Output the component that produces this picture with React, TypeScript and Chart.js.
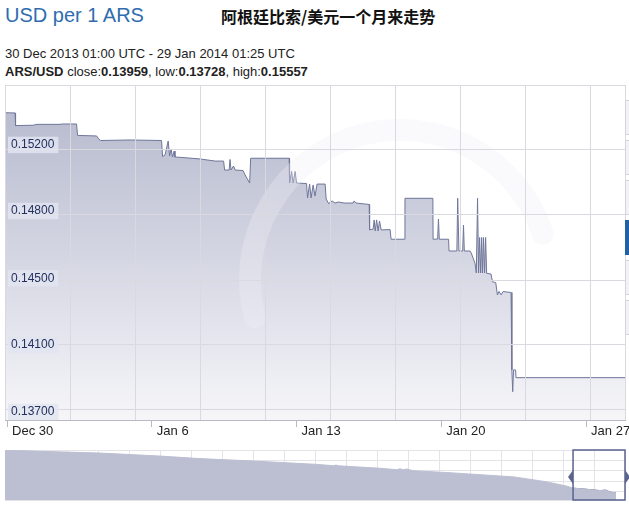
import React, { useEffect, useRef } from "react";
import { Chart, registerables } from "chart.js";

Chart.register(...registerables);

// ---- main chart data (days since 30 Dec 2013 00:00 UTC, USD per 1 ARS) ----
const MAIN_DAYS = [
  -0.1, 0.39, 0.41, 1.26, 1.44, 2.56, 2.66, 3.36, 3.41, 4.33,
  4.43, 4.52, 5.95, 7.47, 7.52, 7.64, 7.79, 7.86, 7.93, 8.0,
  8.08, 8.12, 8.51, 9.33, 10.06, 10.47, 10.52, 10.74, 10.78, 10.83,
  10.95, 11.03, 11.41, 11.51, 11.73, 11.78, 13.64, 13.66, 13.76, 13.83,
  13.93, 14.0, 14.48, 14.53, 14.63, 14.7, 14.8, 14.89, 14.99, 15.38,
  15.43, 15.55, 15.72, 15.86, 16.01, 16.3, 16.73, 16.78, 16.88, 17.51,
  17.53, 17.7, 17.75, 17.8, 17.87, 17.94, 18.01, 18.09, 18.52, 18.57,
  19.21, 19.24, 20.59, 20.6, 20.82, 20.86, 20.9, 21.35, 21.37, 21.75,
  21.79, 21.85, 22.03, 22.07, 22.11, 22.39, 22.44, 22.63, 22.69, 22.75,
  22.8, 22.85, 22.9, 22.95, 22.99, 23.04, 23.09, 23.14, 23.19, 23.4,
  23.47, 23.63, 23.71, 23.79, 23.89, 23.99, 24.13, 24.37, 24.41, 24.45,
  24.49, 24.59, 24.61, 29.88,
];
const MAIN_RATES = [
  0.15412, 0.15411, 0.15339, 0.15341, 0.15346, 0.15346, 0.15348, 0.15348, 0.15283, 0.1528,
  0.15263, 0.15254, 0.15257, 0.15254, 0.15163, 0.15172, 0.15251, 0.15166, 0.15206, 0.1516,
  0.15194, 0.1516, 0.15157, 0.15149, 0.15137, 0.15137, 0.15086, 0.15086, 0.15146, 0.15086,
  0.15109, 0.15086, 0.15083, 0.15058, 0.15012, 0.15153, 0.15153, 0.15012, 0.15078, 0.15012,
  0.15078, 0.15012, 0.15009, 0.14927, 0.15006, 0.14927, 0.15001, 0.14938, 0.15006, 0.15006,
  0.14921, 0.14895, 0.1491, 0.14898, 0.14904, 0.14898, 0.14898, 0.1491, 0.14898, 0.1489,
  0.14745, 0.1475, 0.14802, 0.14739, 0.14802, 0.14739, 0.14796, 0.14745, 0.14747, 0.14692,
  0.14692, 0.14925, 0.14925, 0.14692, 0.14693, 0.14807, 0.14692, 0.14692, 0.14625, 0.14625,
  0.14925, 0.14625, 0.14625, 0.14773, 0.14625, 0.14625, 0.14615, 0.14555, 0.145, 0.14925,
  0.145, 0.14702, 0.145, 0.14702, 0.145, 0.14702, 0.145, 0.14702, 0.14498, 0.14494,
  0.1445, 0.14445, 0.14375, 0.14395, 0.14375, 0.14395, 0.14392, 0.14389, 0.13948, 0.13824,
  0.13948, 0.13948, 0.13904, 0.13904,
];
const X_RANGE = [-0.1, 29.88];
const Y_RANGE = [0.13663, 0.1557];
const X_TICKS = [0, 7, 14, 21, 28];
const X_TICK_LABELS = ["Dec 30", "Jan 6", "Jan 13", "Jan 20", "Jan 27"];
const Y_TICKS = [0.13709, 0.1409, 0.1447, 0.14853, 0.15229];
const Y_TICK_LABELS = ["0.13700", "0.14100", "0.14500", "0.14800", "0.15200"];

// ---- navigator data (days relative to 30 Dec 2013) ----
const NAV_DAYS = [
  -328, -311.8, -273.1, -238.5, -215.4, -184.8, -149.0, -138.0, -136.9, -135.7,
  -111.5, -101.6, -99.9, -98.2, -95.9, -93.6, -91.8, -71.0, -34.1, -15.0,
  -3.5, 0, 9.8, 15.6, 19.0, 21.4, 23.6, 24.8,
];
const NAV_RATES = [
  0.2689, 0.2667, 0.2607, 0.2516, 0.2438, 0.2365, 0.2266, 0.2221, 0.2245, 0.2221,
  0.2145, 0.21, 0.213, 0.21, 0.2124, 0.2085, 0.207, 0.2009, 0.1882, 0.1731,
  0.1601, 0.1541, 0.1496, 0.1466, 0.1481, 0.142, 0.1405, 0.139,
];
const NAV_X_RANGE = [-328, 30];
const NAV_Y_RANGE = [0.118, 0.27];
const SELECT_RANGE = [0, 30];

const FONT = "'Liberation Sans', Arial, sans-serif";

function gridAxis(position: string, count: number, color: string, z: number, reverse = false) {
  return {
    type: "linear",
    position,
    reverse,
    min: 0,
    max: count,
    afterBuildTicks: (s: any) => {
      const t: any[] = [];
      for (let i = 0; i <= Math.floor(s.max); i++) t.push({ value: i });
      if (s.max - Math.floor(s.max) > 0.01) t.push({ value: s.max });
      s.ticks = t;
    },
    afterFit: (s: any) => {
      if (position === "top" || position === "bottom") s.height = 0;
      else s.width = 0;
    },
    ticks: { display: false },
    grid: { color, drawTicks: false, lineWidth: 1, z },
    border: { display: false },
  };
}

const watermark = {
  id: "watermark",
  afterDatasetsDraw(chart: any) {
    const { ctx, chartArea } = chart;
    ctx.save();
    ctx.beginPath();
    ctx.rect(chartArea.left, chartArea.top, chartArea.right - chartArea.left, chartArea.bottom - chartArea.top);
    ctx.clip();
    ctx.strokeStyle = "rgba(238,239,245,0.32)";
    ctx.lineWidth = 22;
    ctx.lineCap = "round";
    ctx.beginPath();
    ctx.arc(chartArea.left + 395, chartArea.top + 195, 150, Math.PI * 0.92, Math.PI * 1.9);
    ctx.stroke();
    ctx.restore();
  },
};

const selectionBox = {
  id: "selectionBox",
  afterDatasetsDraw(chart: any) {
    const { ctx, chartArea, scales } = chart;
    const x0 = scales.x.getPixelForValue(SELECT_RANGE[0]);
    const x1 = scales.x.getPixelForValue(SELECT_RANGE[1]);
    const top = chartArea.top;
    const bottom = chartArea.bottom;
    const mid = top + (bottom - top) * 0.54;
    ctx.save();
    ctx.strokeStyle = "#5b638f";
    ctx.lineWidth = 1.5;
    ctx.strokeRect(x0, top, x1 - x0, bottom - top);
    ctx.fillStyle = "#5b638f";
    ctx.beginPath();
    ctx.moveTo(x0 - 5, mid);
    ctx.lineTo(x0, mid - 7);
    ctx.lineTo(x0, mid + 7);
    ctx.closePath();
    ctx.fill();
    ctx.beginPath();
    ctx.moveTo(x1 + 5, mid);
    ctx.lineTo(x1, mid - 7);
    ctx.lineTo(x1, mid + 7);
    ctx.closePath();
    ctx.fill();
    ctx.restore();
  },
};

function MainChart() {
  const ref = useRef<HTMLCanvasElement | null>(null);
  useEffect(() => {
    if (!ref.current) return;
    const points = MAIN_DAYS.map((d, i) => ({ x: d, y: MAIN_RATES[i] }));
    const chart = new Chart(ref.current, {
      type: "line",
      data: {
        datasets: [
          {
            data: points,
            borderColor: "#6f7699",
            borderWidth: 1,
            pointRadius: 0,
            tension: 0,
            fill: "start",
            backgroundColor: (c: any) => {
              const { ctx, chartArea } = c.chart;
              if (!chartArea) return "#c8cbd9";
              const g = ctx.createLinearGradient(0, chartArea.top, 0, chartArea.bottom);
              g.addColorStop(0, "#b3b7cb");
              g.addColorStop(0.5, "#d3d5e2");
              g.addColorStop(1, "#f6f6f9");
              return g;
            },
          },
        ],
      },
      options: {
        animation: false,
        responsive: false,
        maintainAspectRatio: false,
        layout: { padding: { left: 5, right: 4, top: 5, bottom: 10 } },
        plugins: { legend: { display: false }, tooltip: { enabled: false } },
        scales: {
          x: {
            type: "linear",
            position: "bottom",
            min: X_RANGE[0],
            max: X_RANGE[1],
            afterBuildTicks: (s: any) => {
              s.ticks = X_TICKS.map((v) => ({ value: v }));
            },
            afterFit: (s: any) => {
              s.height = 20;
              s.paddingLeft = 0;
              s.paddingRight = 0;
            },
            ticks: {
              callback: (_v: any, i: number) => X_TICK_LABELS[i],
              align: "start",
              labelOffset: 5,
              padding: -3,
              autoSkip: false,
              maxRotation: 0,
              color: "#222222",
              font: { family: FONT, size: 13 },
            },
            grid: { drawOnChartArea: false, drawTicks: true, tickLength: 7, color: "#b8b9c2" },
            border: { display: true, color: "#b8b9c2", z: 2 },
          },
          y: {
            type: "linear",
            position: "left",
            min: Y_RANGE[0],
            max: Y_RANGE[1],
            afterBuildTicks: (s: any) => {
              s.ticks = Y_TICKS.map((v) => ({ value: v }));
            },
            afterFit: (s: any) => {
              s.width = 0;
              s.paddingTop = 0;
              s.paddingBottom = 0;
            },
            ticks: {
              z: 3,
              mirror: true,
              padding: 6,
              callback: (_v: any, i: number) => Y_TICK_LABELS[i],
              showLabelBackdrop: true,
              backdropColor: "rgba(226,228,240,0.85)",
              backdropPadding: { top: 1, bottom: 1, left: 3, right: 4 },
              color: "#22305e",
              font: { family: FONT, size: 12 },
            },
            grid: { display: false },
            border: { display: false },
          },
          xg: gridAxis("top", 620 / 65, "#d9d9df", 1) as any,
          yg: gridAxis("left", 335 / 65, "#d9d9df", 1, true) as any,
        },
      } as any,
      plugins: [watermark],
    });
    return () => chart.destroy();
  }, []);
  return (
    <canvas
      ref={ref}
      width={629}
      height={370}
      style={{ position: "absolute", left: 0, top: 80, width: 629, height: 370 }}
    />
  );
}

function NavigatorChart() {
  const ref = useRef<HTMLCanvasElement | null>(null);
  useEffect(() => {
    if (!ref.current) return;
    const all = NAV_DAYS.map((d, i) => ({ x: d, y: NAV_RATES[i] }));
    const selected = all.filter((p) => p.x >= SELECT_RANGE[0] && p.x <= SELECT_RANGE[1]);
    const chart = new Chart(ref.current, {
      type: "line",
      data: {
        datasets: [
          {
            data: all,
            borderColor: "#bcbfd2",
            borderWidth: 1,
            pointRadius: 0,
            tension: 0,
            fill: "start",
            backgroundColor: "#bcbfd2",
          },
          {
            data: selected,
            borderColor: "#525a86",
            borderWidth: 1,
            pointRadius: 0,
            tension: 0,
            fill: "start",
            backgroundColor: "#6a719c",
          },
        ],
      },
      options: {
        animation: false,
        responsive: false,
        maintainAspectRatio: false,
        layout: { padding: { left: 5, right: 4, top: 10, bottom: 5 } },
        plugins: { legend: { display: false }, tooltip: { enabled: false } },
        scales: {
          x: { type: "linear", min: NAV_X_RANGE[0], max: NAV_X_RANGE[1], display: false },
          y: { type: "linear", min: NAV_Y_RANGE[0], max: NAV_Y_RANGE[1], display: false },
          xg: gridAxis("top", 20, "#e3e3e8", -1) as any,
          yg: gridAxis("left", 50 / 10.4, "#e3e3e8", -1, true) as any,
        },
      } as any,
      plugins: [selectionBox],
    });
    return () => chart.destroy();
  }, []);
  return (
    <canvas
      ref={ref}
      width={629}
      height={65}
      style={{ position: "absolute", left: 0, top: 440, width: 629, height: 65 }}
    />
  );
}

const SIDE_TABS = [
  { top: 100, h: 35, active: false },
  { top: 140, h: 35, active: false },
  { top: 180, h: 35, active: false },
  { top: 220, h: 35, active: true },
  { top: 260, h: 35, active: false },
  { top: 300, h: 35, active: false },
];

export default function App() {
  return (
    <div
      style={{
        position: "absolute",
        left: 0,
        top: 0,
        width: 629,
        height: 505,
        overflow: "hidden",
        background: "#ffffff",
        fontFamily: FONT,
      }}
    >
      <div
        style={{
          position: "absolute",
          left: 5,
          top: 5,
          fontSize: 20,
          lineHeight: "20px",
          color: "#2f6db0",
          whiteSpace: "nowrap",
        }}
      >
        USD per 1 ARS
      </div>
      <div
        style={{
          position: "absolute",
          left: 221,
          top: 8,
          fontSize: 16,
          lineHeight: "16px",
          fontWeight: "bold",
          color: "#111",
          fontFamily: "'Noto Sans CJK SC', sans-serif",
          whiteSpace: "nowrap",
        }}
      >
        阿根廷比索/美元一个月来走势
      </div>
      <div
        style={{
          position: "absolute",
          left: 5,
          top: 46,
          fontSize: 13,
          lineHeight: "15px",
          color: "#222",
          whiteSpace: "nowrap",
        }}
      >
        30 Dec 2013 01:00 UTC - 29 Jan 2014 01:25 UTC
      </div>
      <div
        style={{
          position: "absolute",
          left: 5,
          top: 64,
          fontSize: 13,
          lineHeight: "15px",
          color: "#222",
          whiteSpace: "nowrap",
        }}
      >
        <b>ARS/USD</b> close:<b>0.13959</b>, low:<b>0.13728</b>, high:<b>0.15557</b>
      </div>
      <MainChart />
      <NavigatorChart />
      {SIDE_TABS.map((t, i) => (
        <div
          key={i}
          style={{
            position: "absolute",
            left: 625,
            top: t.top,
            width: 6,
            height: t.h,
            boxSizing: "border-box",
            background: t.active ? "#1f63a6" : "#f3f3f6",
            border: t.active ? "none" : "1px solid #d4d5dc",
          }}
        />
      ))}
    </div>
  );
}
